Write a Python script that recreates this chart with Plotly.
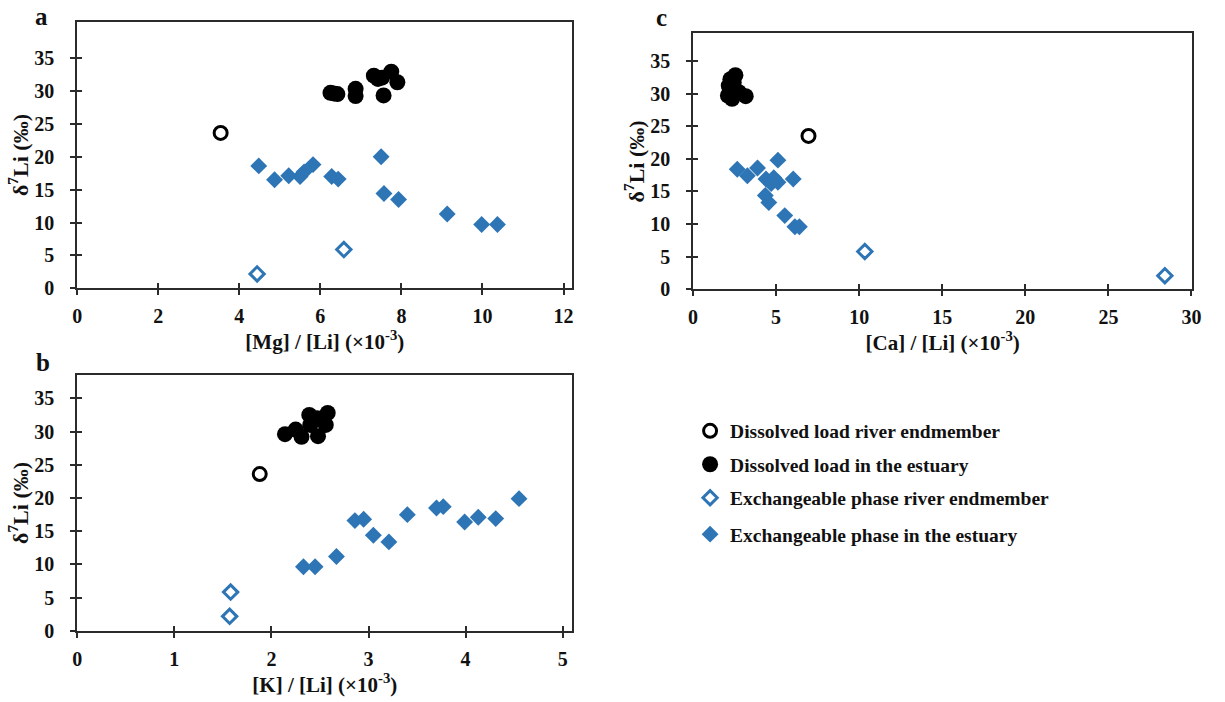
import plotly.graph_objects as go

# ---- data: delta7Li (permil) against element/Li ratios (x10^-3) ----
# Dissolved load, river endmember
mg_river_dis, k_river_dis, ca_river_dis = [3.54], [1.88], [6.95]
li_river_dis_a, li_river_dis_b, li_river_dis_c = [23.6], [23.6], [23.5]

# Dissolved load in the estuary
mg_est_dis = [6.25, 6.33, 6.42, 6.87, 6.87, 7.32, 7.42, 7.52, 7.56, 7.75, 7.90]
li_est_dis_a = [29.7, 29.6, 29.5, 30.3, 29.2, 32.3, 31.8, 32.0, 29.3, 32.9, 31.3]
k_est_dis = [2.14, 2.25, 2.31, 2.39, 2.40, 2.47, 2.48, 2.56, 2.58]
li_est_dis_b = [29.6, 30.3, 29.2, 32.5, 31.0, 32.0, 29.3, 31.0, 32.8]
ca_est_dis = [2.10, 2.15, 2.25, 2.35, 2.45, 2.55, 2.76, 3.17]
li_est_dis_c = [29.7, 31.2, 32.2, 29.2, 31.7, 32.8, 30.2, 29.6]

# Exchangeable phase, river endmember
mg_river_exc, li_river_exc_a = [4.44, 6.58], [2.2, 5.9]
k_river_exc, li_river_exc_b = [1.57, 1.58], [2.2, 5.85]
ca_river_exc, li_river_exc_c = [28.4, 10.34], [2.1, 5.8]

# Exchangeable phase in the estuary
mg_est_exc = [4.48, 4.87, 5.22, 5.50, 5.60, 5.82, 6.28, 6.44, 7.50, 7.57, 7.93, 9.13, 9.98, 10.37]
li_est_exc_a = [18.6, 16.5, 17.1, 17.0, 17.7, 18.8, 17.0, 16.6, 20.0, 14.4, 13.5, 11.3, 9.7, 9.7]
k_est_exc = [2.33, 2.45, 2.67, 2.86, 2.95, 3.05, 3.21, 3.40, 3.70, 3.77, 3.99, 4.13, 4.31, 4.55]
li_est_exc_b = [9.65, 9.65, 11.2, 16.6, 16.8, 14.4, 13.4, 17.5, 18.5, 18.7, 16.4, 17.1, 16.9, 19.9]
ca_est_exc = [2.66, 3.27, 3.88, 4.39, 4.70, 4.86, 5.11, 5.11, 6.03, 4.35, 4.56, 5.52, 6.13, 6.40]
li_est_exc_c = [18.4, 17.4, 18.6, 16.9, 16.2, 17.1, 16.4, 19.8, 16.9, 14.4, 13.3, 11.3, 9.6, 9.6]

series_names = [
    "Dissolved load river endmember",
    "Dissolved load in the estuary",
    "Exchangeable phase river endmember",
    "Exchangeable phase in the estuary",
]
y_ticks = [0, 5, 10, 15, 20, 25, 30, 35]
mg_ticks = [0, 2, 4, 6, 8, 10, 12]
k_ticks = [0, 1, 2, 3, 4, 5]
ca_ticks = [0, 5, 10, 15, 20, 25, 30]
y_title = "δ<sup>7</sup>Li (‰)"
x_titles = {
    "": "[Mg] / [Li] (×10<sup>-3</sup>)",
    "2": "[K] / [Li] (×10<sup>-3</sup>)",
    "3": "[Ca] / [Li] (×10<sup>-3</sup>)",
}

# ---- styling ----
FONT = "Liberation Serif"
BLUE = "#2E75B6"
BLACK = "#000000"
INK = "#111111"
AX = "#2b2b2b"
W, H = 1225, 702

styles = [
    dict(symbol="circle-open", size=13, color=BLACK, line=dict(width=3, color=BLACK)),
    dict(symbol="circle", size=16, color=BLACK),
    dict(symbol="diamond-open", size=11, color=BLUE, line=dict(width=3, color=BLUE)),
    dict(symbol="diamond", size=13, color=BLUE),
]

panels = [
    ("", [(mg_river_dis, li_river_dis_a), (mg_est_dis, li_est_dis_a),
          (mg_river_exc, li_river_exc_a), (mg_est_exc, li_est_exc_a)]),
    ("2", [(k_river_dis, li_river_dis_b), (k_est_dis, li_est_dis_b),
           (k_river_exc, li_river_exc_b), (k_est_exc, li_est_exc_b)]),
    ("3", [(ca_river_dis, li_river_dis_c), (ca_est_dis, li_est_dis_c),
           (ca_river_exc, li_river_exc_c), (ca_est_exc, li_est_exc_c)]),
]

fig = go.Figure()
legend_ids = ["legend", "legend2", "legend3", "legend4"]
for p, (suffix, data) in enumerate(panels):
    for s in [3, 2, 0, 1]:
        xs, ys = data[s]
        st = styles[s]
        marker = dict(symbol=st["symbol"], size=st["size"], color=st["color"],
                      line=st.get("line", dict(width=0)))
        fig.add_trace(go.Scatter(
            x=xs, y=ys, mode="markers", marker=marker,
            name=series_names[s], showlegend=(p == 0),
            legend=legend_ids[s],
            xaxis="x" + suffix, yaxis="y" + suffix, hoverinfo="x+y",
        ))

# pixel geometry of the three plot areas: (left, right, top, bottom)
boxes = {
    "": (73, 574, 22, 293),
    "2": (73, 574, 381, 641),
    "3": (696, 1201, 34, 294),
}
x_ranges = {"": [0, 12.22], "2": [0, 5.1], "3": [0, 30.05]}
y_ranges = {"": [0, 40.5], "2": [0, 38.5], "3": [0, 39.2]}
x_tickvals = {"": mg_ticks, "2": k_ticks, "3": ca_ticks}

tick_font = dict(family=FONT, size=20, color=INK, weight="bold")
title_font = dict(family=FONT, size=21, color=INK, weight="bold")
layout = dict(
    width=W, height=H, margin=dict(l=0, r=0, t=0, b=0),
    paper_bgcolor="white", plot_bgcolor="white",
    font=dict(family=FONT, size=18, color=INK),
)

inner = {"": "4", "2": "5", "3": "6"}
for suffix, (l, r, t, b) in boxes.items():
    xd = [l / W, r / W]
    yd = [1 - b / H, 1 - t / H]
    common_x = dict(domain=xd, range=x_ranges[suffix], tickvals=x_tickvals[suffix],
                    showgrid=False, zeroline=False)
    common_y = dict(domain=yd, range=y_ranges[suffix], tickvals=y_ticks,
                    showgrid=False, zeroline=False)
    layout["xaxis" + suffix] = dict(
        **common_x, anchor="y" + suffix, showline=True, mirror=True,
        linecolor=AX, linewidth=1.6, ticks="outside", ticklen=5,
        tickwidth=1.6, tickcolor=AX, tickfont=tick_font, ticklabelstandoff=4,
        title=dict(text=x_titles[suffix], font=title_font, standoff=2),
    )
    layout["yaxis" + suffix] = dict(
        **common_y, anchor="x" + suffix, showline=True, mirror=True,
        linecolor=AX, linewidth=1.6, ticks="outside", ticklen=5,
        tickwidth=1.6, tickcolor=AX, tickfont=tick_font, ticklabelstandoff=12,
        title=dict(text=y_title, font=dict(title_font, size=22), standoff=0),
    )
    # companion axes carry the inward half of the crossing tick marks
    n = inner[suffix]
    layout["xaxis" + n] = dict(
        **common_x, anchor="y" + n, overlaying="x" + suffix, ticks="inside",
        ticklen=5, tickwidth=1.6, tickcolor=AX, showticklabels=False, showline=False,
    )
    layout["yaxis" + n] = dict(
        **common_y, anchor="x" + n, overlaying="y" + suffix, ticks="inside",
        ticklen=5, tickwidth=1.6, tickcolor=AX, showticklabels=False, showline=False,
    )
    fig.add_trace(go.Scatter(x=[None], y=[None], xaxis="x" + n, yaxis="y" + n,
                             showlegend=False, hoverinfo="skip"))

# one legend per series, stacked in the free lower-right area
legend_rows = [438, 472, 506, 543]
for lid, row in zip(legend_ids, legend_rows):
    layout[lid] = dict(
        x=693 / W, y=1 - row / H, xanchor="left", yanchor="middle",
        bgcolor="rgba(0,0,0,0)", borderwidth=0,
        font=dict(family=FONT, size=19.5, color=INK, weight="bold"),
        itemsizing="trace",
    )

fig.update_layout(**layout)

# panel letters
for letter, (px, py) in {"a": (37, 17), "b": (38, 368), "c": (664, 18)}.items():
    fig.add_annotation(text=letter, x=px / W, y=1 - py / H, xref="paper", yref="paper",
                       showarrow=False, xanchor="center", yanchor="middle",
                       font=dict(family=FONT, size=25, color=INK, weight="bold"))

fig.write_html("out.html")
